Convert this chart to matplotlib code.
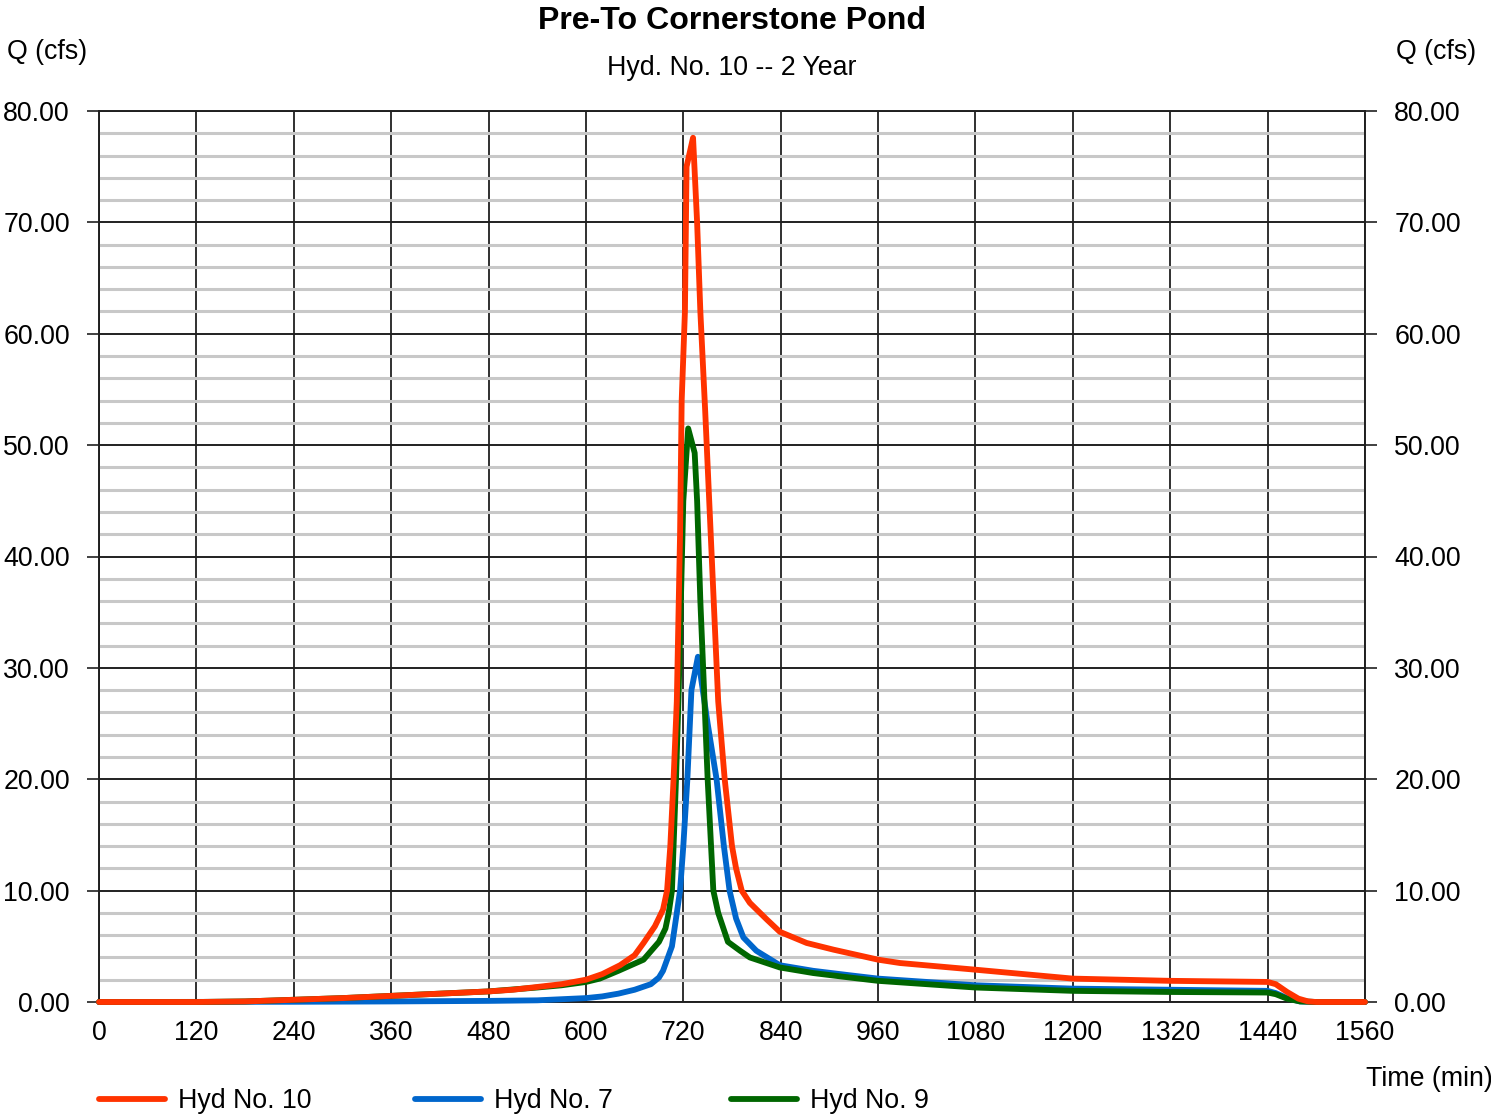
import matplotlib
matplotlib.use("Agg")
import matplotlib.pyplot as plt
from matplotlib.lines import Line2D
from matplotlib.ticker import MultipleLocator, FormatStrFormatter

plt.rcParams['font.family'] = ['Liberation Sans', 'DejaVu Sans']

title = "Pre-To Cornerstone Pond"
subtitle = "Hyd. No. 10 -- 2 Year"
y_label = "Q (cfs)"
x_label = "Time (min)"

x_ticks = [0, 120, 240, 360, 480, 600, 720, 840, 960, 1080, 1200, 1320, 1440, 1560]

# Hyd No. 10 (combined outflow)
hyd10_t = [0, 120, 180, 240, 300, 360, 420, 480, 510, 540, 570, 600, 620, 642,
           660, 671, 685, 695, 700, 704, 708, 712, 716, 718, 722, 724, 732,
           737, 741, 747, 755, 763, 771, 780, 785, 792, 802, 823, 839, 872,
           905, 960, 987, 1080, 1200, 1260, 1320, 1440, 1450, 1464, 1478,
           1490, 1500, 1560]
hyd10_q = [0, 0, 0.05, 0.2, 0.35, 0.55, 0.75, 0.95, 1.1, 1.35, 1.6, 2.0, 2.5, 3.3,
           4.2, 5.3, 6.8, 8.3, 10.0, 14.0, 20.0, 27.0, 42.0, 54.0, 62.0, 75.0, 77.6,
           70.0, 62.0, 53.0, 40.0, 27.0, 20.0, 14.0, 12.0, 10.0, 8.9, 7.4, 6.3, 5.3,
           4.7, 3.8, 3.5, 2.9, 2.1, 2.0, 1.9, 1.8, 1.6, 0.9, 0.3,
           0.05, 0, 0]

# Hyd No. 7
hyd7_t = [0, 240, 360, 480, 540, 570, 600, 620, 640, 660, 680, 690, 695, 700,
          706, 711, 716, 720, 725, 730, 738, 741, 750, 761, 770, 777, 785, 794,
          810, 839, 880, 925, 960, 1080, 1200, 1320, 1440, 1450, 1464, 1480,
          1500, 1560]
hyd7_q = [0, 0.02, 0.05, 0.1, 0.15, 0.25, 0.35, 0.5, 0.75, 1.1, 1.6, 2.2, 2.8, 3.8,
          5.0, 7.5, 10.0, 14.0, 20.0, 28.0, 31.0, 29.5, 25.0, 20.0, 14.0, 10.0, 7.5, 5.8,
          4.6, 3.3, 2.8, 2.4, 2.1, 1.5, 1.2, 1.1, 1.0, 0.8, 0.35, 0.05,
          0, 0]

# Hyd No. 9
hyd9_t = [0, 120, 180, 240, 300, 360, 420, 480, 540, 570, 600, 617, 640, 671,
          690, 698, 702, 706, 711, 714, 717, 720, 726, 734, 737, 741, 745, 750,
          757, 763, 775, 790, 802, 839, 880, 925, 960, 1080, 1200, 1320, 1440,
          1450, 1464, 1480, 1500, 1560]
hyd9_q = [0, 0, 0.05, 0.2, 0.35, 0.55, 0.75, 0.95, 1.3, 1.5, 1.8, 2.1, 2.8, 3.8,
          5.4, 6.6, 8.0, 10.0, 20.0, 27.0, 36.0, 45.0, 51.5, 49.3, 45.0, 36.0, 29.0, 20.0,
          10.0, 8.0, 5.4, 4.6, 4.0, 3.1, 2.6, 2.2, 1.9, 1.3, 1.0, 0.9, 0.85,
          0.7, 0.3, 0.05, 0, 0]

series = [
    ("Hyd No. 10", hyd10_t, hyd10_q, "#ff3300"),
    ("Hyd No. 7", hyd7_t, hyd7_q, "#0066cc"),
    ("Hyd No. 9", hyd9_t, hyd9_q, "#006600"),
]
draw_order = [1, 2, 0]

FS = 19.3

W, H = 1491, 1114
fig = plt.figure(figsize=(W / 100, H / 100), dpi=100)
ax = fig.add_axes([99 / W, 1 - 1002 / H, (1365 - 99) / W, (1002 - 111) / H])

ax.set_xlim(0, 1560)
ax.set_ylim(0, 80)

# grid
ax.yaxis.set_major_locator(MultipleLocator(10))
ax.yaxis.set_minor_locator(MultipleLocator(2))
ax.set_xticks(x_ticks)
ax.grid(which='minor', axis='y', color='#c8c8c8', linewidth=2.2, zorder=0)
ax.grid(which='major', axis='y', color='#202020', linewidth=1.4, zorder=1)
ax.grid(which='major', axis='x', color='#303030', linewidth=1.4, zorder=1)
ax.set_axisbelow(True)

for sp in ax.spines.values():
    sp.set_color('#202020')
    sp.set_linewidth(1.4)

ax.yaxis.set_major_formatter(FormatStrFormatter('%.2f'))
ax.tick_params(axis='y', which='major', left=True, right=True, labelleft=True,
               labelright=True, length=8.5, width=1.2, direction='out',
               pad=12.5, labelsize=FS, color='#202020')
ax.tick_params(axis='y', which='minor', left=False, right=False, length=0)
ax.tick_params(axis='x', which='major', length=0, pad=13, labelsize=FS)

for zo, i in enumerate(draw_order):
    name, t, q, c = series[i]
    ax.plot(t, q, color=c, linewidth=4.2, solid_joinstyle='round',
            solid_capstyle='round', clip_on=False, zorder=3 + zo)

# titles and axis labels
fig.text(732 / W, 1 - 21 / H, title, ha='center', va='center',
         fontsize=23.1, fontweight='bold')
fig.text(732 / W, 1 - 68 / H, subtitle, ha='center', va='center', fontsize=FS)
fig.text(7 / W, 1 - 52 / H, y_label, ha='left', va='center', fontsize=FS)
fig.text(1476 / W, 1 - 52 / H, y_label, ha='right', va='center', fontsize=FS)
fig.text(1366 / W, 1 - 1079 / H, x_label, ha='left', va='center', fontsize=FS)

# legend row
for k, (name, t, q, c) in enumerate(series):
    x0 = 99 + k * 316
    fig.add_artist(Line2D([x0 / W, (x0 + 66) / W], [1 - 1099 / H, 1 - 1099 / H],
                          color=c, linewidth=4.2, solid_capstyle='round'))
    fig.text((x0 + 79) / W, 1 - 1101 / H, name, ha='left', va='center', fontsize=FS)

fig.savefig("out.png", dpi=100)
